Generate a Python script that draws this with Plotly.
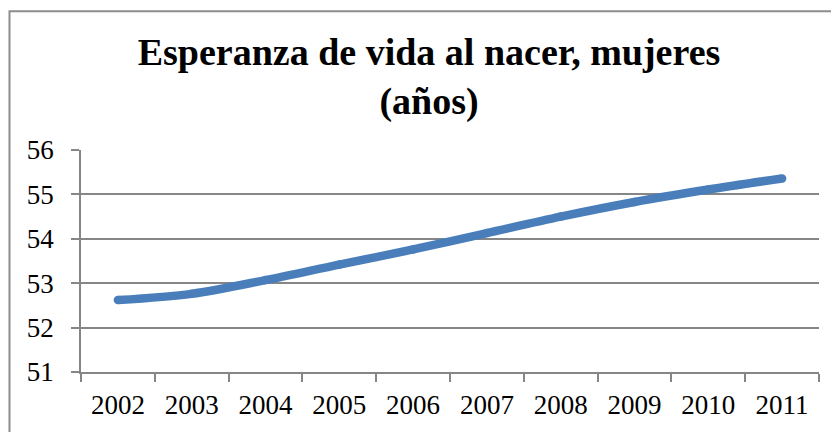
import plotly.graph_objects as go

years = ["2002", "2003", "2004", "2005", "2006", "2007", "2008", "2009", "2010", "2011"]
esperanza = [52.62, 52.76, 53.07, 53.42, 53.76, 54.13, 54.50, 54.83, 55.11, 55.36]
y_ticks = [51, 52, 53, 54, 55, 56]
title_text = "Esperanza de vida al nacer, mujeres<br>(años)"

# page has an 8px body margin, so the figure is 8px smaller than the window
W, H = 831, 424
ml, mt = 73, 142
plot_w, plot_h = 738, 225
mr = W - ml - plot_w
mb = H - mt - plot_h

fig = go.Figure()
fig.add_trace(go.Scatter(
    x=years, y=esperanza, mode="lines+markers",
    line=dict(color="#4A7EBB", width=8.5, shape="spline", smoothing=0.9),
    marker=dict(color="#4A7EBB", size=8.5, line=dict(width=0)),
    hoverinfo="skip", showlegend=False,
))

def px_x(p):
    return (p - ml) / plot_w
def px_y(p):
    return (H - mb - p) / plot_h

fig.add_shape(type="rect", xref="paper", yref="paper",
              x0=px_x(1.5), x1=px_x(845), y0=px_y(445), y1=px_y(1.5),
              line=dict(color="#8C8C8C", width=2), fillcolor="rgba(0,0,0,0)", layer="below")

fig.update_layout(
    width=W, height=H,
    margin=dict(l=ml, r=mr, t=mt, b=mb, pad=0),
    paper_bgcolor="white", plot_bgcolor="white",
    title=dict(text=title_text, xref="container", yref="container",
               x=421 / W, xanchor="center", y=1 - 57 / H, yanchor="top",
               font=dict(family="Liberation Serif", size=38, color="black", weight="bold")),
    font=dict(family="Liberation Serif", size=27, color="black"),
    xaxis=dict(type="category", range=[-0.5, 9.5], tickson="boundaries",
               ticks="outside", ticklen=8, tickcolor="#868686", tickwidth=1.5,
               showline=True, linecolor="#868686", linewidth=1.5,
               showgrid=False, zeroline=False, ticklabelstandoff=8,
               tickfont=dict(family="Liberation Serif", size=27, color="black")),
    yaxis=dict(range=[51, 56], tickvals=y_ticks, ticktext=[str(v) for v in y_ticks],
               ticks="outside", ticklen=8, tickcolor="#868686", tickwidth=1.5,
               showline=True, linecolor="#868686", linewidth=1.5,
               showgrid=True, gridcolor="#868686", gridwidth=1.5, zeroline=False,
               ticklabelstandoff=12,
               tickfont=dict(family="Liberation Serif", size=27, color="black")),
)

fig.write_html("out.html")
